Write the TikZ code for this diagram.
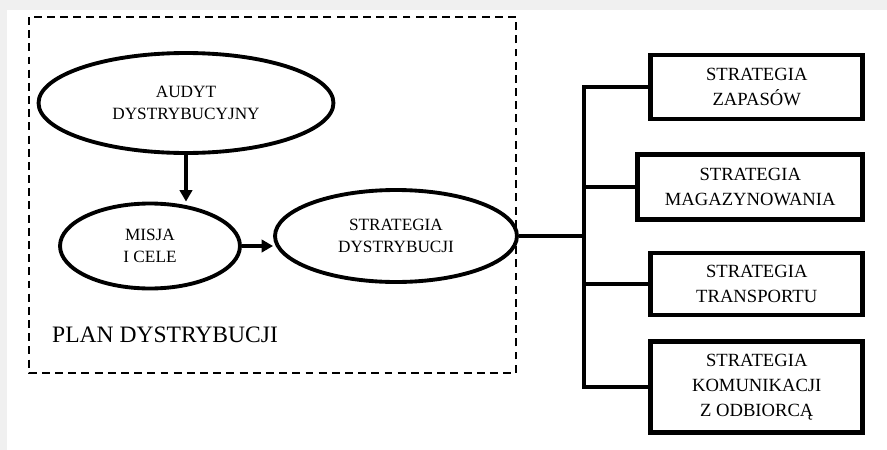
\documentclass[tikz,border=0pt]{standalone}
\usepackage{fontspec}
\setmainfont{Liberation Serif}
\usetikzlibrary{arrows.meta,shapes.geometric}

\begin{document}
\begin{tikzpicture}[x=0.02cm,y=-0.02cm,
                owal/.style={draw, ellipse, line width=2.2pt, inner sep=0pt, align=center, font=\fontsize{9.8}{12.9}\selectfont},
                skrzynka/.style={draw, rectangle, line width=2.6pt, inner sep=0pt, align=center, anchor=east, font=\fontsize{10.6}{14.2}\selectfont},
                strzalka/.style={line width=2.1pt, -{Triangle[length=6.5pt,width=7pt]}},
                linia/.style={line width=2.1pt}]
                \fill[black!6] (0,0) rectangle (887,450);
                \fill[white] (7,10) rectangle (887,450);
                \useasboundingbox (0,0) rectangle (887,450);
                \draw[line width=0.85pt, dash pattern=on 4.5pt off 3pt] (29,17) rectangle (516,373);
                \node[owal, minimum width=5.9cm, minimum height=2cm] (audyt) at (186,103) {AUDYT\\DYSTRYBUCYJNY};
                \node[owal, minimum width=3.6cm, minimum height=1.7cm] (misja) at (150,246) {MISJA\\I CELE};
                \node[owal, minimum width=4.84cm, minimum height=1.84cm] (strat) at (396,236) {STRATEGIA\\DYSTRYBUCJI};
                \node[anchor=base west, font=\fontsize{13.4}{16}\selectfont] (plan) at (46,342) {PLAN DYSTRYBUCJI};
                \draw[strzalka] (audyt.south) -- (audyt.south |- misja.north);
                \draw[strzalka] (misja.east) -- (misja.east -| strat.west);
                \node[skrzynka, minimum width=4.24cm, minimum height=1.28cm] (zapasy) at (865,87) {STRATEGIA\\ZAPASÓW};
                \node[skrzynka, minimum width=4.5cm, minimum height=1.3cm] (magazyn) at (865,187) {STRATEGIA\\MAGAZYNOWANIA};
                \node[skrzynka, minimum width=4.24cm, minimum height=1.24cm] (transport) at (865,284) {STRATEGIA\\TRANSPORTU};
                \node[skrzynka, minimum width=4.24cm, minimum height=1.82cm] (komunikacja) at (865,387) {STRATEGIA\\KOMUNIKACJI\\Z ODBIORCĄ};
                \coordinate (rozgalezienie) at (584,236);
                \draw[linia] (strat.east) -- (rozgalezienie);
                \draw[linia] (zapasy.west) -| (rozgalezienie) |- (komunikacja.west);
                \draw[linia] (magazyn.west) -| (rozgalezienie);
                \draw[linia] (transport.west) -| (rozgalezienie);
            \end{tikzpicture}
\end{document}
